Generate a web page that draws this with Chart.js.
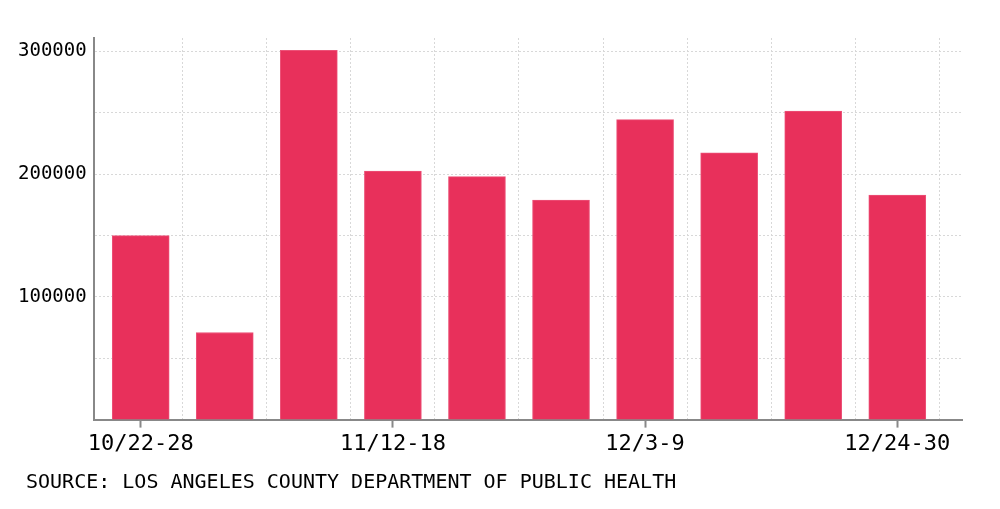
<!DOCTYPE html>
<html lang="en">
<head>
  <meta charset="UTF-8" />
  <title>Weekly totals</title>
  <script src="https://cdn.jsdelivr.net/npm/chart.js"></script>
  <style>
    body {
      margin: 0;
      background: #fff;
      width: 1000px;
      height: 509px;
      overflow: hidden;
      position: relative;
    }
    .wrap {
      position: absolute;
      left: 0;
      top: 0;
      width: 1000px;
      height: 509px;
    }
    .source {
      position: absolute;
      left: 26px;
      top: 468px;
      font-family: 'DejaVu Sans Mono', monospace;
      font-size: 20px;
      line-height: 26px;
      color: #000;
      white-space: nowrap;
    }
  </style>
</head>
<body>
  <div class="wrap"><canvas id="chart" width="1000" height="509"></canvas></div>
  <div class="source">SOURCE: LOS ANGELES COUNTY DEPARTMENT OF PUBLIC HEALTH</div>

  <script>
    const weeks = ['10/22-28', '10/29-11/4', '11/5-11', '11/12-18', '11/19-25',
                   '11/26-12/2', '12/3-9', '12/10-16', '12/17-23', '12/24-30'];
    const counts = [150000, 71000, 301000, 202500, 198000, 179000, 244500, 217500, 251500, 183000];
    const labelEvery = 3;
    const yTicks = [50000, 100000, 150000, 200000, 250000, 300000];
    const yLabels = [100000, 200000, 300000];

    const barColor = '#e8305b';
    const axisColor = '#888888';
    const gridColor = '#d8d8d8';
    const textColor = '#000000';

    // labelled weeks get a tick mark, half steps get the dotted grid line
    const xTickValues = [];
    weeks.forEach((w, i) => {
      if (i % labelEvery === 0) xTickValues.push(i);
      xTickValues.push(i + 0.5);
    });

    const isLabelTick = (c) => c.tick && Number.isInteger(c.tick.value);

    const ctx = document.getElementById('chart').getContext('2d');

    new Chart(ctx, {
      type: 'bar',
      data: {
        datasets: [{
          data: counts.map((v, i) => ({ x: i, y: v })),
          backgroundColor: barColor,
          borderColor: '#ec5278',
          borderWidth: 1,
          barThickness: 57
        }]
      },
      options: {
        responsive: false,
        animation: false,
        layout: { padding: { left: 11, right: 38, top: 38, bottom: 49 } },
        plugins: {
          legend: { display: false },
          tooltip: { enabled: false }
        },
        scales: {
          x: {
            type: 'linear',
            offset: false,
            min: -0.56,
            max: 9.77,
            afterBuildTicks: (axis) => {
              axis.ticks = xTickValues.map(v => ({ value: v }));
            },
            ticks: {
              autoSkip: false,
              maxRotation: 0,
              padding: 3,
              color: textColor,
              font: { family: 'DejaVu Sans Mono', size: 22 },
              callback: (v) => Number.isInteger(v) ? weeks[v] : ''
            },
            grid: {
              offset: false,
              color: (c) => isLabelTick(c) ? 'transparent' : gridColor,
              tickColor: (c) => isLabelTick(c) ? axisColor : 'transparent',
              tickLength: 8,
              tickWidth: 2,
              lineWidth: 1
            },
            border: { color: axisColor, width: 2, dash: [2, 2] }
          },
          y: {
            min: 0,
            max: 311000,
            afterBuildTicks: (axis) => {
              axis.ticks = yTicks.map(v => ({ value: v }));
            },
            ticks: {
              padding: 7,
              color: textColor,
              font: { family: 'DejaVu Sans Mono', size: 19 },
              callback: (v) => yLabels.includes(v) ? String(v) : ''
            },
            grid: {
              color: gridColor,
              drawTicks: false,
              lineWidth: 1
            },
            border: { color: axisColor, width: 2, dash: [2, 2] }
          }
        }
      }
    });
  </script>
</body>
</html>
